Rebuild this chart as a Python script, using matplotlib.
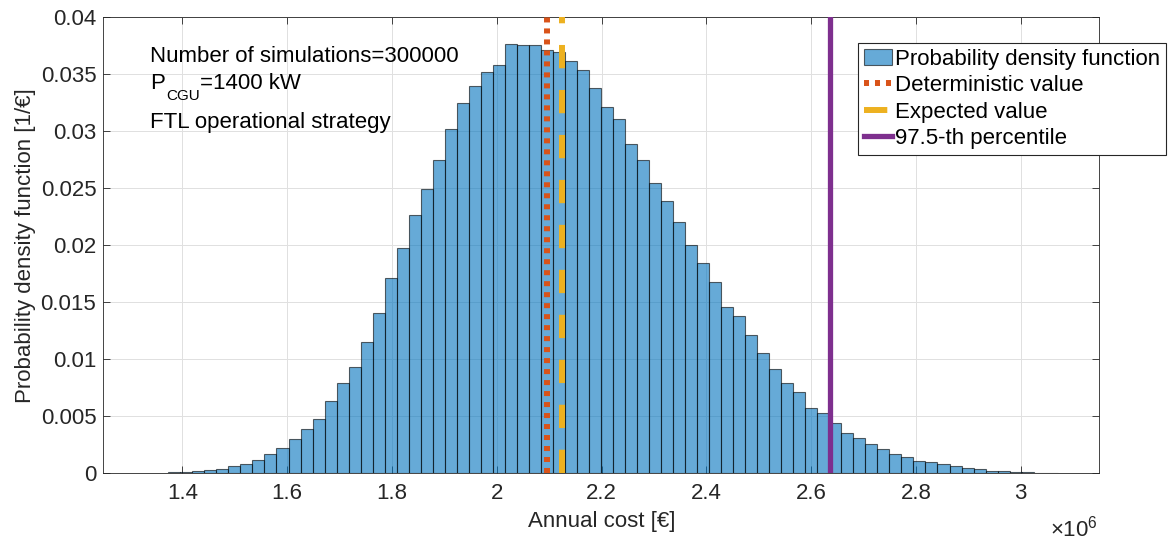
import numpy as np
import matplotlib.pyplot as plt
from matplotlib.ticker import FuncFormatter, MultipleLocator

# histogram (pdf, 1/€), equal-width bins
bin_start = 1.3733e6
bin_width = 2.2936e4
pdf_values = [
    0.0001, 0.0001, 0.0002, 0.0003, 0.0004, 0.00064, 0.0008, 0.00114, 0.00167, 0.0022,
    0.0030, 0.0039, 0.0048, 0.0063, 0.0079, 0.0093, 0.01155, 0.0141, 0.0171, 0.0198,
    0.0227, 0.0249, 0.0275, 0.0302, 0.0325, 0.0340, 0.0352, 0.0358, 0.0377, 0.03755,
    0.03755, 0.0371, 0.0370, 0.0362, 0.03535, 0.03383, 0.0321, 0.03105, 0.02889, 0.02746,
    0.0255, 0.02386, 0.02205, 0.02003, 0.01848, 0.01681, 0.01462, 0.01377, 0.01211, 0.01056,
    0.00915, 0.0079, 0.00716, 0.0057, 0.00526, 0.00444, 0.00351, 0.0031, 0.00254, 0.00213,
    0.00173, 0.00146, 0.00105, 0.00096, 0.00082, 0.00064, 0.0005, 0.00034, 0.00024, 0.0002,
    0.00015, 0.0001, 0.00006, 0.00003,
]
deterministic_value = 2.0966e6
expected_value = 2.1240e6
percentile_975 = 2.6366e6

plt.rcParams['font.family'] = ['Liberation Sans', 'DejaVu Sans']
plt.rcParams['mathtext.fontset'] = 'custom'
plt.rcParams['mathtext.rm'] = 'Liberation Sans'
plt.rcParams['mathtext.it'] = 'Liberation Sans:italic'
plt.rcParams['font.size'] = 16
txtcol = '#262626'

fig = plt.figure(figsize=(11.73, 5.43), dpi=100)
ax = fig.add_axes([103.3/1173, 1-473.3/543, 996/1173, 456/543])

edges = bin_start + bin_width*np.arange(len(pdf_values)+1)
bars = ax.bar(edges[:-1], pdf_values, width=bin_width, align='edge',
              color='#0072BD', alpha=0.6, edgecolor='k', linewidth=0.8,
              label='Probability density function', zorder=2)
for b in bars:
    b.set_edgecolor((0, 0, 0, 0.85))

ax.axvline(deterministic_value, color='#D95319', linewidth=4.3, linestyle=(0, (0.84, 1.0)),
           dash_capstyle='butt', label='Deterministic value', zorder=3)
ax.axvline(expected_value, color='#EDB120', linewidth=4.3, linestyle=(0, (3.9, 3.63)),
           dash_capstyle='butt', label='Expected value', zorder=3)
ax.axvline(percentile_975, color='#7E2F8E', linewidth=3.8,
           label='97.5-th percentile', zorder=3)

ax.set_xlim(1.2492e6, 3.15e6)
ax.set_ylim(0, 0.04)
ax.xaxis.set_major_locator(MultipleLocator(0.2e6))
ax.yaxis.set_major_locator(MultipleLocator(0.005))
ax.xaxis.set_major_formatter(FuncFormatter(lambda v, p: '{:g}'.format(round(v/1e6, 3))))
ax.yaxis.set_major_formatter(FuncFormatter(lambda v, p: '{:g}'.format(round(v, 4))))
ax.tick_params(direction='in', top=True, right=True, length=5, width=0.6,
               colors=txtcol, labelsize=16)
ax.tick_params(axis='x', pad=7)
ax.tick_params(axis='y', pad=5)
for s in ax.spines.values():
    s.set_color(txtcol)
    s.set_linewidth(0.6)
ax.grid(True, color='#e0e0e0', linewidth=0.7)
ax.set_axisbelow(True)

ax.set_xlabel('Annual cost [€]', color=txtcol)
ax.xaxis.set_label_coords(0.5, -0.082)
ax.set_ylabel('Probability density function [1/€]', color=txtcol)
ax.yaxis.set_label_coords(-0.068, 0.5)
fig.text(1098/1173, 6/543, r'$\times10^{6}$', ha='right', va='baseline', color=txtcol)

# info text (second line with a lowered subscript, like MATLAB's tex)
ax.text(0.0469, 0.902, 'Number of simulations=300000', transform=ax.transAxes,
        va='baseline', ha='left')
tp = ax.text(0.0469, 0.842, 'P', transform=ax.transAxes, va='baseline', ha='left')
tsub = ax.annotate('CGU', xy=(1, 0), xycoords=tp, xytext=(1.2, -3.8),
                   textcoords='offset points', va='baseline', ha='left', fontsize=11)
ax.annotate('=1400 kW', xy=(1, 0), xycoords=(tsub, tp), xytext=(0, 0),
            textcoords='offset points', va='bottom', ha='left')
ax.text(0.0469, 0.757, 'FTL operational strategy', transform=ax.transAxes,
        va='baseline', ha='left')

handles, labels = ax.get_legend_handles_labels()
order = [labels.index('Probability density function'), labels.index('Deterministic value'),
         labels.index('Expected value'), labels.index('97.5-th percentile')]
leg = ax.legend([handles[i] for i in order], [labels[i] for i in order],
                loc='upper right', bbox_to_anchor=(1166/1173, 1-43/543),
                bbox_transform=fig.transFigure, fancybox=False, framealpha=1,
                edgecolor=txtcol, fontsize=16, labelspacing=0.25, handlelength=1.26,
                handletextpad=0.15, borderpad=0.25, borderaxespad=0)
leg.get_frame().set_linewidth(0.8)
leg.set_zorder(10)

fig.savefig('out.png', dpi=100)
